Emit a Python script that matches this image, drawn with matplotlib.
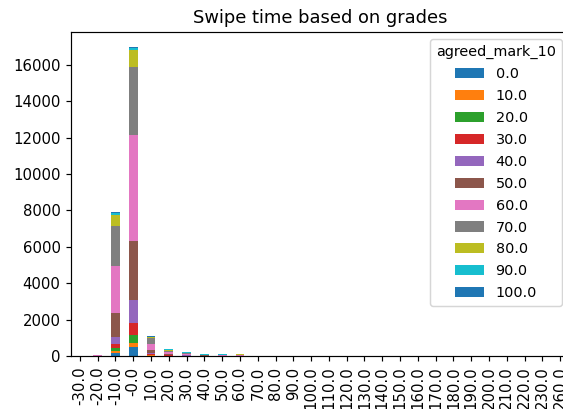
import matplotlib
matplotlib.use('Agg')
import matplotlib.pyplot as plt
import pandas as pd

# swipe time buckets (x axis)
swipe_time = ['-30.0', '-20.0', '-10.0', '-0.0', '10.0', '20.0', '30.0', '40.0',
              '50.0', '60.0', '70.0', '80.0', '90.0', '100.0', '110.0', '120.0',
              '130.0', '140.0', '150.0', '160.0', '170.0', '180.0', '190.0',
              '200.0', '210.0', '220.0', '230.0', '260.0']

# counts per grade bucket, one list per stacked series
mark_0 = [0, 5, 165, 495, 20, 10, 5, 2, 2, 2, 1, 1, 0, 0, 0, 0, 0, 0, 0, 0, 0, 0, 0, 0, 0, 0, 0, 0]
mark_10 = [0, 0, 110, 220, 10, 5, 3, 1, 1, 1, 0, 0, 0, 0, 0, 0, 0, 0, 0, 0, 0, 0, 0, 0, 0, 0, 0, 0]
mark_20 = [0, 0, 180, 440, 50, 10, 5, 3, 2, 2, 1, 0, 0, 0, 0, 0, 0, 0, 0, 0, 0, 0, 0, 0, 0, 0, 0, 0]
mark_30 = [0, 2, 220, 660, 20, 15, 8, 3, 2, 2, 1, 0, 0, 0, 0, 0, 0, 0, 0, 0, 0, 0, 0, 0, 0, 0, 0, 0]
mark_40 = [0, 10, 370, 1265, 90, 20, 12, 5, 8, 3, 1, 0, 0, 0, 0, 0, 0, 0, 0, 0, 0, 0, 0, 0, 0, 0, 0, 0]
mark_50 = [1, 10, 1320, 3245, 130, 60, 30, 15, 10, 10, 2, 1, 1, 2, 2, 1, 2, 2, 2, 2, 1, 0, 0, 0, 0, 0, 0, 0]
mark_60 = [0, 15, 2585, 5830, 360, 90, 45, 20, 30, 15, 3, 2, 2, 3, 3, 2, 3, 3, 3, 3, 2, 1, 1, 1, 1, 1, 1, 1]
mark_70 = [1, 10, 2200, 3740, 320, 80, 45, 15, 5, 10, 3, 2, 2, 3, 3, 2, 3, 3, 3, 3, 2, 0, 0, 0, 0, 0, 0, 0]
mark_80 = [0, 20, 605, 935, 40, 50, 25, 10, 5, 40, 8, 1, 1, 8, 8, 1, 8, 8, 8, 8, 1, 0, 0, 0, 0, 0, 0, 0]
mark_90 = [0, 0, 110, 70, 20, 40, 40, 55, 25, 2, 1, 10, 10, 1, 1, 10, 1, 1, 1, 1, 12, 0, 0, 0, 0, 0, 0, 0]
mark_100 = [0, 0, 20, 55, 40, 5, 2, 1, 0, 0, 0, 0, 0, 0, 0, 0, 0, 0, 0, 0, 0, 0, 0, 0, 0, 0, 0, 0]

marks = [0.0, 10.0, 20.0, 30.0, 40.0, 50.0, 60.0, 70.0, 80.0, 90.0, 100.0]

df = pd.DataFrame(
    [mark_0, mark_10, mark_20, mark_30, mark_40, mark_50,
     mark_60, mark_70, mark_80, mark_90, mark_100],
    index=marks, columns=swipe_time).T
df.columns.name = 'agreed_mark_10'

dpi = 107
fig = plt.figure(figsize=(563 / dpi, 409 / dpi), dpi=dpi)
ax = fig.add_axes([71 / 563, 53 / 409, 498 / 563, 324 / 409])

df.plot(kind='bar', stacked=True, ax=ax)
ax.set_title('Swipe time based on grades')
ax.legend(title='agreed_mark_10', loc='upper right',
          fontsize=9.7, title_fontsize=9.7, labelspacing=0.55)

fig.savefig('out.png', dpi=dpi)
